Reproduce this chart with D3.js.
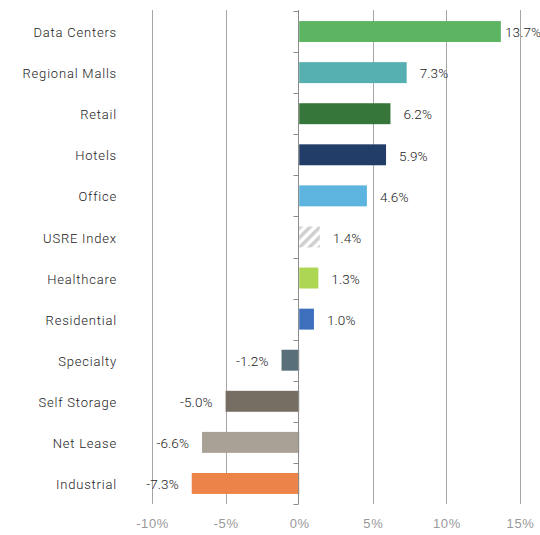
<!doctype html>
<html lang="en">
<head>
  <meta charset="utf-8">
  <title>Sector returns</title>
  <style>
  body { margin: 0; background: #fff; }
  svg { display: block; font-family: "Roboto", "Liberation Sans", sans-serif; font-weight: 300; }
  .grid line { stroke: #a6a6a6; stroke-width: 1; }
  .cat { font-size: 13px; fill: #222; }
  .val { font-size: 13.5px; fill: #222; }
  .xtick { font-size: 13px; fill: #999; }
  </style>
</head>
<body>
  <div id="chart"></div>
  <script src="https://d3js.org/d3.v7.min.js"></script>
  <script>
    (function() {

      var width = 540,
          height = 535;

      var sectors = ["Data Centers", "Regional Malls", "Retail", "Hotels", "Office", "USRE Index",
                     "Healthcare", "Residential", "Specialty", "Self Storage", "Net Lease", "Industrial"];
      var returns = [13.7, 7.3, 6.2, 5.9, 4.6, 1.4, 1.3, 1.0, -1.2, -5.0, -6.6, -7.3];
      var colors = ["#5db462", "#56afb0", "#37763a", "#223e68", "#5db4de", "hatch",
                    "#add653", "#3e6fbd", "#59707a", "#766e63", "#a9a096", "#ec844a"];
      var xTicks = [-10, -5, 0, 5, 10, 15];

      var x = d3.scaleLinear().domain([-10, 15]).range([152, 520]);
      var y = d3.scaleBand().domain(sectors).range([11, 504]).paddingInner(0.49).paddingOuter(0.245);

      var svg = d3.select("#chart")
          .append("svg")
          .attr("width", width)
          .attr("height", height);

      // hatch pattern for the index bar
      var pat = svg.append("defs").append("pattern")
          .attr("id", "hatch")
          .attr("patternUnits", "userSpaceOnUse")
          .attr("width", 7).attr("height", 7)
          .attr("patternTransform", "rotate(45)");
      pat.append("rect").attr("width", 7).attr("height", 7).attr("fill", "#fff");
      pat.append("rect").attr("width", 3.5).attr("height", 7).attr("fill", "#cfcfcf");

      // vertical gridlines
      var grid = svg.append("g").attr("class", "grid");
      grid.selectAll("line")
        .data(xTicks.filter(function(d) { return d !== 0; }))
        .enter().append("line")
        .attr("x1", function(d) { return Math.round(x(d)) + 0.5; })
        .attr("x2", function(d) { return Math.round(x(d)) + 0.5; })
        .attr("y1", 10).attr("y2", 504);

      // x tick labels
      var xAxis = d3.axisBottom(x).tickValues(xTicks).tickSize(0).tickPadding(0)
          .tickFormat(function(d) { return d + "%"; });
      var gx = svg.append("g").attr("transform", "translate(0,519)").call(xAxis);
      gx.select(".domain").remove();
      gx.selectAll("text").attr("class", "xtick").attr("fill", null).attr("dy", "0.71em")
        .style("font-size", "13px").style("letter-spacing", "0.6px");

      // bars
      svg.append("g").selectAll("rect")
        .data(sectors)
        .enter().append("rect")
        .attr("x", function(d, i) { return x(Math.min(0, returns[i])); })
        .attr("y", function(d) { return y(d); })
        .attr("width", function(d, i) { return Math.abs(x(returns[i]) - x(0)); })
        .attr("height", y.bandwidth())
        .attr("fill", function(d, i) { return colors[i] === "hatch" ? "url(#hatch)" : colors[i]; });

      // zero axis with ticks between categories
      var x0 = Math.round(x(0)) - 0.5;
      var axis = svg.append("g");
      axis.append("line")
        .attr("x1", x0).attr("x2", x0).attr("y1", 10).attr("y2", 504)
        .attr("stroke", "#8c8c8c");
      var bounds = d3.range(sectors.length + 1).map(function(i) { return 11 + i * (504 - 11) / sectors.length; });
      axis.selectAll(".tk")
        .data(bounds)
        .enter().append("line")
        .attr("x1", x0 - 5).attr("x2", x0)
        .attr("y1", function(d) { return Math.round(d) + 0.5; })
        .attr("y2", function(d) { return Math.round(d) + 0.5; })
        .attr("stroke", "#8c8c8c");

      // category labels
      svg.append("g").selectAll("text")
        .data(sectors)
        .enter().append("text")
        .attr("class", "cat")
        .attr("x", 117)
        .attr("y", function(d) { return y(d) + y.bandwidth() / 2 + 1; })
        .attr("dy", "0.35em")
        .attr("text-anchor", "end")
        .style("letter-spacing", "0.8px")
        .text(function(d) { return d; });

      // value labels
      svg.append("g").selectAll("text")
        .data(sectors)
        .enter().append("text")
        .attr("class", "val")
        .attr("x", function(d, i) {
          return returns[i] >= 0 ? Math.min(x(returns[i]) + 13, 505) : x(returns[i]) - 13;
        })
        .attr("y", function(d) { return y(d) + y.bandwidth() / 2 + 1; })
        .attr("dy", "0.35em")
        .attr("text-anchor", function(d, i) { return returns[i] >= 0 ? "start" : "end"; })
        .style("letter-spacing", "0.1px")
        .text(function(d, i) { return returns[i].toFixed(1) + "%"; });

    })();
  </script>
</body>
</html>
